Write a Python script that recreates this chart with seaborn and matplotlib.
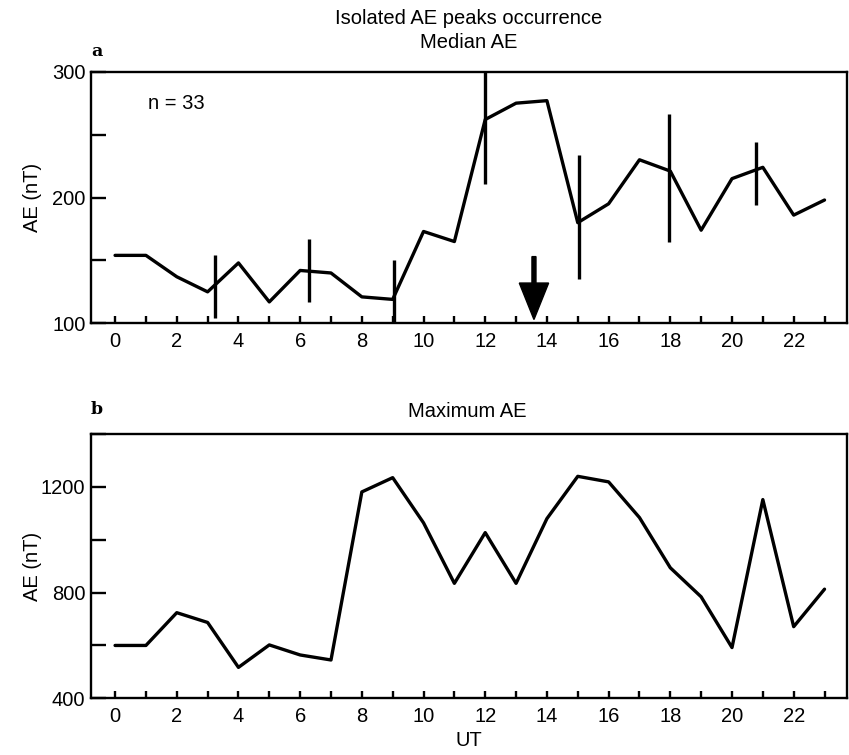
import matplotlib
matplotlib.use("Agg")
import matplotlib.pyplot as plt
import seaborn as sns
import numpy as np
import pandas as pd
from matplotlib.ticker import MultipleLocator

# hours UT
hours = list(range(24))

# panel a: median AE (nT)
median_ae = [154, 154, 137, 125, 148, 117, 142, 140, 121, 119, 173, 165,
             262, 275, 277, 180, 195, 230, 221, 174, 215, 224, 186, 198]

# spread bars on panel a
bar_x = [3.24, 6.29, 9.05, 12.0, 15.05, 17.97, 20.78]
bar_low = [104, 117, 100, 211, 135, 165, 194]
bar_high = [154, 167, 150, 300, 234, 266, 244]

# panel b: maximum AE (nT)
max_ae = [600, 600, 724, 687, 517, 602, 564, 545, 1181, 1235, 1064, 835,
          1027, 835, 1080, 1240, 1219, 1084, 894, 784, 592, 1152, 671, 813]

n_events = 33
arrow_ut = 13.58

df = pd.DataFrame({"UT": hours, "median": median_ae, "max": max_ae})

sns.set_style("ticks", {"axes.edgecolor": "black", "text.color": "black",
                        "axes.labelcolor": "black", "xtick.color": "black",
                        "ytick.color": "black"})
plt.rcParams['font.family'] = ['Liberation Sans', 'DejaVu Sans']

fig = plt.figure(figsize=(8.49, 7.55), dpi=100)
ax1 = fig.add_axes([0.1072, 0.5718, 0.8905, 0.3332])
ax2 = fig.add_axes([0.1072, 0.0751, 0.8905, 0.3500])

lw = 2.4
fs = 14.5

# top panel
sns.lineplot(data=df, x="UT", y="median", ax=ax1, color="black", lw=lw)
ax1.vlines(bar_x, bar_low, bar_high, color="black", lw=lw)
ax1.arrow(arrow_ut, 153, 0, -50, width=0.13, head_width=0.95, head_length=29,
          length_includes_head=True, color="black")
ax1.text(1.07, 275, f"n = {n_events}", fontsize=fs, va="center", ha="left")
ax1.set_ylim(100, 300)
ax1.yaxis.set_major_locator(MultipleLocator(100))
ax1.yaxis.set_minor_locator(MultipleLocator(50))

# bottom panel
sns.lineplot(data=df, x="UT", y="max", ax=ax2, color="black", lw=lw)
ax2.set_ylim(400, 1400)
ax2.set_yticks([400, 800, 1200])
ax2.yaxis.set_minor_locator(MultipleLocator(200))

for ax in (ax1, ax2):
    ax.set_xlim(-0.78, 23.73)
    ax.xaxis.set_major_locator(MultipleLocator(2))
    ax.xaxis.set_minor_locator(MultipleLocator(1))
    ax.tick_params(axis="both", which="both", direction="in", labelsize=fs, width=1.7)
    ax.tick_params(axis="x", which="both", length=5, pad=6)
    ax.tick_params(axis="y", which="both", length=11, pad=4)
    ax.set_ylabel("AE (nT)", fontsize=fs)
    ax.yaxis.set_label_coords(-0.065, 0.5)
    for s in ax.spines.values():
        s.set_linewidth(1.7)
        s.set_visible(True)

ax1.set_xlabel("")
ax2.set_xlabel("UT", fontsize=fs, labelpad=4)

# titles and panel letters
fig.text(469 / 849, 1 - 18 / 755, "Isolated AE peaks occurrence", ha="center", va="center", fontsize=fs)
fig.text(469 / 849, 1 - 42 / 755, "Median AE", ha="center", va="center", fontsize=fs)
fig.text(467 / 849, 1 - 411 / 755, "Maximum AE", ha="center", va="center", fontsize=fs)
fig.text(91 / 849, 1 - 52 / 755, "a", ha="left", va="center", fontsize=12.5,
         fontfamily="DejaVu Serif", fontweight="bold")
fig.text(91 / 849, 1 - 410 / 755, "b", ha="left", va="center", fontsize=12.5,
         fontfamily="DejaVu Serif", fontweight="bold")

fig.savefig("out.png", dpi=100)
